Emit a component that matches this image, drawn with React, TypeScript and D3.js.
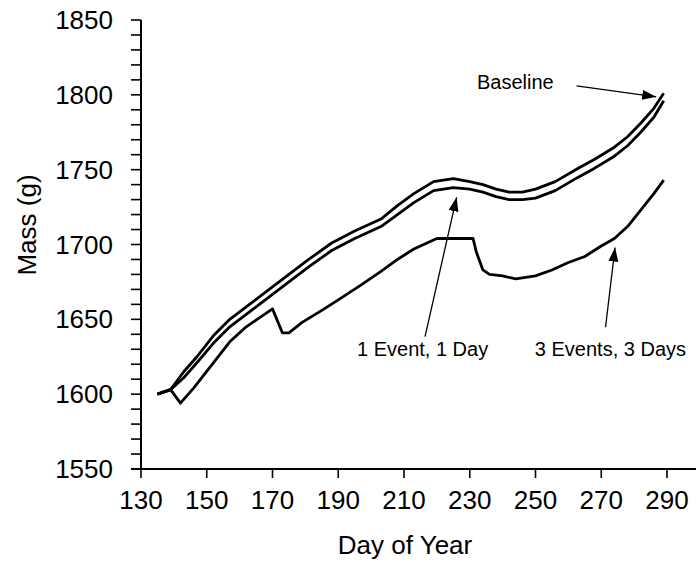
import React, { useEffect, useRef } from 'react'
import * as d3 from 'd3'

// [day, mass]
const baseline: [number, number][] = [
    [135, 1600], [139, 1603], [143, 1615], [147, 1625], [152, 1639], [157, 1650],
    [163, 1660], [169, 1670], [175, 1680], [181, 1690], [188, 1701], [195, 1709],
    [203, 1717], [208, 1726], [213, 1734], [219, 1742], [225, 1744], [230, 1742],
    [234, 1740], [238, 1737], [242, 1735], [246, 1735], [250, 1737], [256, 1742],
    [263, 1751], [268, 1757], [274, 1765], [278, 1772], [282, 1781], [286, 1791],
    [289, 1801]
]

const oneEvent: [number, number][] = [
    [135, 1600], [139, 1603], [143, 1611], [147, 1621], [152, 1634], [157, 1645],
    [163, 1655], [169, 1665], [175, 1675], [181, 1685], [188, 1696], [195, 1704],
    [203, 1712], [208, 1720], [213, 1728], [219, 1736], [225, 1738], [230, 1737],
    [234, 1735], [238, 1732], [242, 1730], [246, 1730], [250, 1731], [256, 1736],
    [263, 1745], [268, 1751], [274, 1759], [278, 1766], [282, 1775], [286, 1785],
    [289, 1796]
]

const threeEvents: [number, number][] = [
    [135, 1600], [139, 1603], [142, 1594], [146, 1604], [151, 1618], [157, 1635],
    [162, 1645], [166, 1651], [170, 1657], [173, 1641], [175, 1641], [179, 1648],
    [185, 1656], [190, 1663], [197, 1673], [203, 1682], [208, 1690], [213, 1697],
    [217, 1701], [220, 1704], [231, 1704], [232, 1695], [234, 1683], [236, 1680],
    [240, 1679], [244, 1677], [250, 1679], [255, 1683], [260, 1688], [265, 1692],
    [270, 1699], [274, 1704], [278, 1712], [282, 1723], [286, 1734], [289, 1743]
]

const xTicks = [130, 150, 170, 190, 210, 230, 250, 270, 290]
const yTicks = [1550, 1600, 1650, 1700, 1750, 1800, 1850]
const yMinorTicks = [
    1550, 1560, 1570, 1580, 1590, 1600, 1610, 1620, 1630, 1640, 1650, 1660, 1670, 1680,
    1690, 1700, 1710, 1720, 1730, 1740, 1750, 1760, 1770, 1780, 1790, 1800, 1810, 1820,
    1830, 1840, 1850
]

// annotation labels and arrows, in data units
const labels = [
    { text: 'Baseline', day: 232.2, mass: 1803.6 },
    { text: '1 Event, 1 Day', day: 195.7, mass: 1625.5 },
    { text: '3 Events, 3 Days', day: 249.8, mass: 1625.5 }
]
const arrows = [
    { from: [262.5, 1806], to: [286.7, 1798.7] },
    { from: [216.4, 1638.4], to: [226, 1731.5] },
    { from: [271.3, 1644.7], to: [274.2, 1698] }
]

const App = () => {
    const ref = useRef<SVGSVGElement>(null)
    const width = 696, height = 584
    const font = "'Liberation Sans', Arial, Helvetica, sans-serif"

    useEffect(() => {
        const x = d3.scaleLinear().domain([130, 290]).range([141, 667])
        const y = d3.scaleLinear().domain([1550, 1850]).range([469, 20])

        const svg = d3.select(ref.current)
        svg.selectAll('*').remove()

        svg.append('defs').append('marker')
            .attr('id', 'head')
            .attr('viewBox', '0 0 14 10')
            .attr('refX', 14).attr('refY', 5)
            .attr('markerWidth', 14).attr('markerHeight', 10)
            .attr('markerUnits', 'userSpaceOnUse')
            .attr('orient', 'auto')
            .append('path')
            .attr('d', 'M0,0 L14,5 L0,10 Z')
            .attr('fill', '#000')

        // y axis
        const g = svg.append('g')
        g.append('line')
            .attr('x1', x(130)).attr('x2', x(130))
            .attr('y1', y(1850)).attr('y2', y(1550))
            .attr('stroke', '#000').attr('stroke-width', 2)
        g.selectAll('.ytick')
            .data(yMinorTicks)
            .enter().append('line')
            .attr('x1', x(130) - 10).attr('x2', x(130))
            .attr('y1', d => y(d)).attr('y2', d => y(d))
            .attr('stroke', '#000').attr('stroke-width', 1.6)
        g.selectAll('.ylabel')
            .data(yTicks)
            .enter().append('text')
            .attr('x', 113)
            .attr('y', d => y(d) + 9)
            .attr('text-anchor', 'end')
            .style('font-family', font)
            .style('font-size', '26px')
            .text(d => d)

        // x axis
        g.append('line')
            .attr('x1', x(130) - 10).attr('x2', width)
            .attr('y1', y(1550)).attr('y2', y(1550))
            .attr('stroke', '#000').attr('stroke-width', 2)
        g.selectAll('.xtick')
            .data(xTicks)
            .enter().append('line')
            .attr('x1', d => x(d)).attr('x2', d => x(d))
            .attr('y1', y(1550)).attr('y2', y(1550) + 9)
            .attr('stroke', '#000').attr('stroke-width', 1.6)
        g.selectAll('.xlabel')
            .data(xTicks)
            .enter().append('text')
            .attr('x', d => x(d))
            .attr('y', 509)
            .attr('text-anchor', 'middle')
            .style('font-family', font)
            .style('font-size', '26px')
            .text(d => d)

        // axis titles
        svg.append('text')
            .attr('x', 405).attr('y', 554)
            .attr('text-anchor', 'middle')
            .style('font-family', font)
            .style('font-size', '26px')
            .text('Day of Year')
        svg.append('text')
            .attr('transform', 'translate(36,225) rotate(-90)')
            .attr('text-anchor', 'middle')
            .style('font-family', font)
            .style('font-size', '26px')
            .text('Mass (g)')

        // series
        const line = d3.line<[number, number]>()
            .x(d => x(d[0]))
            .y(d => y(d[1]))

        svg.selectAll('.series')
            .data([baseline, oneEvent, threeEvents])
            .enter().append('path')
            .attr('d', d => line(d))
            .attr('fill', 'none')
            .attr('stroke', '#000')
            .attr('stroke-width', 2.8)
            .attr('stroke-linejoin', 'round')

        // annotations
        svg.selectAll('.arrow')
            .data(arrows)
            .enter().append('line')
            .attr('x1', d => x(d.from[0])).attr('y1', d => y(d.from[1]))
            .attr('x2', d => x(d.to[0])).attr('y2', d => y(d.to[1]))
            .attr('stroke', '#000').attr('stroke-width', 1.3)
            .attr('marker-end', 'url(#head)')

        svg.selectAll('.label')
            .data(labels)
            .enter().append('text')
            .attr('x', d => x(d.day)).attr('y', d => y(d.mass))
            .style('font-family', font)
            .style('font-size', '20px')
            .text(d => d.text)
    }, [])

    return (
        <svg ref={ref} width={width} height={height}
            style={{ position: 'absolute', left: 0, top: 0, background: '#fff' }}>
        </svg>
    )
}

export default App
